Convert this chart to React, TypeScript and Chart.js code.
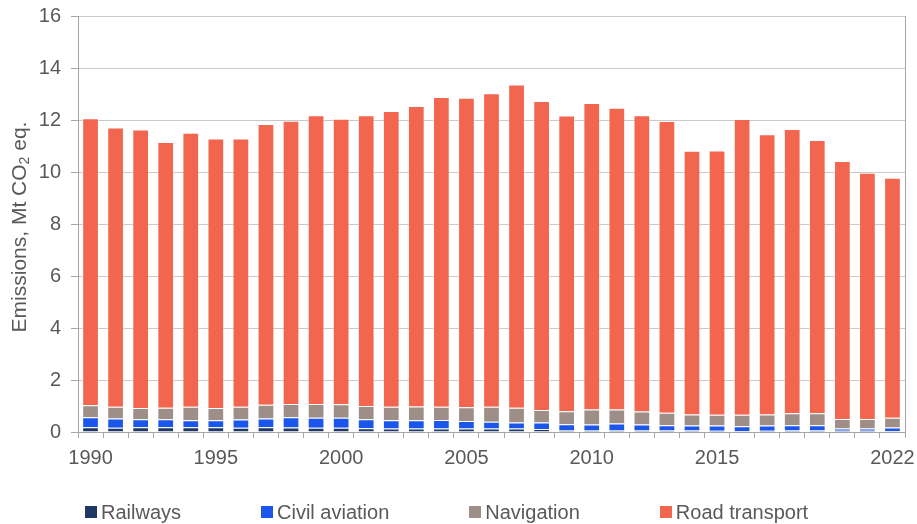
import React, { useEffect, useRef } from "react";
import { Chart, registerables } from "chart.js";

Chart.register(...registerables);

const years = [
  "1990","1991","1992","1993","1994","1995","1996","1997","1998","1999",
  "2000","2001","2002","2003","2004","2005","2006","2007","2008","2009",
  "2010","2011","2012","2013","2014","2015","2016","2017","2018","2019",
  "2020","2021","2022",
];

const tickYears = ["1990", "1995", "2000", "2005", "2010", "2015", "2022"];

const railways = [
  0.18, 0.16, 0.18, 0.18, 0.18, 0.18, 0.16, 0.18, 0.17, 0.16,
  0.16, 0.14, 0.13, 0.13, 0.13, 0.13, 0.13, 0.13, 0.12, 0.08,
  0.08, 0.07, 0.07, 0.07, 0.06, 0.05, 0.04, 0.05, 0.06, 0.06,
  0.05, 0.05, 0.04,
];

const civilAviation = [
  0.39, 0.36, 0.31, 0.31, 0.27, 0.27, 0.32, 0.34, 0.40, 0.39,
  0.39, 0.35, 0.32, 0.32, 0.33, 0.29, 0.26, 0.24, 0.25, 0.22,
  0.21, 0.26, 0.22, 0.19, 0.19, 0.20, 0.18, 0.20, 0.20, 0.20,
  0.08, 0.08, 0.13,
];

const navigation = [
  0.46, 0.45, 0.43, 0.44, 0.52, 0.47, 0.49, 0.53, 0.51, 0.53,
  0.52, 0.51, 0.52, 0.53, 0.51, 0.53, 0.58, 0.56, 0.48, 0.50,
  0.58, 0.54, 0.50, 0.48, 0.42, 0.41, 0.44, 0.42, 0.46, 0.46,
  0.37, 0.37, 0.38,
];

const roadTransport = [
  11.04, 10.74, 10.71, 10.22, 10.54, 10.37, 10.32, 10.80, 10.89, 11.10,
  10.98, 11.18, 11.38, 11.56, 11.91, 11.91, 12.06, 12.44, 11.88, 11.37,
  11.78, 11.60, 11.39, 11.22, 10.15, 10.17, 11.38, 10.78, 10.93, 10.51,
  9.92, 9.47, 9.23,
];

const seriesNames = ["Railways", "Civil aviation", "Navigation", "Road transport"];
const seriesColors = ["#1f3864", "#1a56eb", "#9d8f87", "#f2654e"];

const yTitleParts = ["Emissions, Mt CO", "2", " eq."];

const yTicks = { min: 0, max: 16, step: 2 };

const FONT = "'Liberation Sans', Arial, sans-serif";
const TEXT = "#595959";
const AXIS = "#a6a6a6";
const GRID = "#c9c9c9";

const yTitlePlugin = {
  id: "yTitleSub",
  afterDraw(chart: any) {
    const { ctx, chartArea } = chart;
    const main = `21px ${FONT}`;
    const sub = `14px ${FONT}`;
    ctx.save();
    ctx.font = main;
    const w0 = ctx.measureText(yTitleParts[0]).width;
    const w2 = ctx.measureText(yTitleParts[2]).width;
    ctx.font = sub;
    const w1 = ctx.measureText(yTitleParts[1]).width;
    const total = w0 + w1 + w2;
    const cy = (chartArea.top + chartArea.bottom) / 2 + 3;
    ctx.translate(20, cy);
    ctx.rotate(-Math.PI / 2);
    ctx.fillStyle = TEXT;
    ctx.textAlign = "left";
    ctx.textBaseline = "middle";
    let x = -total / 2;
    ctx.font = main;
    ctx.fillText(yTitleParts[0], x, 0);
    x += w0;
    ctx.font = sub;
    ctx.fillText(yTitleParts[1], x, 5);
    x += w1;
    ctx.font = main;
    ctx.fillText(yTitleParts[2], x, 0);
    ctx.restore();
  },
};

export default function App() {
  const ref = useRef<HTMLCanvasElement | null>(null);

  useEffect(() => {
    document.body.style.margin = "0";
    const canvas = ref.current;
    if (!canvas) return;
    const values = [railways, civilAviation, navigation, roadTransport];
    const chart = new Chart(canvas, {
      type: "bar",
      data: {
        labels: years,
        datasets: seriesNames.map((label, i) => ({
          label,
          data: values[i],
          backgroundColor: seriesColors[i],
          borderColor: "rgba(255,255,255,0.3)",
          borderWidth: 1,
          borderSkipped: "bottom" as const,
          barPercentage: 0.667,
          categoryPercentage: 1,
        })),
      },
      plugins: [yTitlePlugin],
      options: {
        responsive: false,
        animation: false,
        devicePixelRatio: 1,
        layout: { padding: { top: 16, bottom: 46, left: 0, right: 0 } },
        plugins: {
          tooltip: { enabled: false },
          legend: { display: false },
        },
        scales: {
          x: {
            stacked: true,
            afterFit: (s: any) => {
              s.paddingLeft = 0;
              s.paddingRight = 0;
              s.height = 46;
            },
            grid: {
              display: true,
              offset: true,
              drawOnChartArea: false,
              drawTicks: true,
              tickLength: 6,
              color: AXIS,
            },
            border: { display: true, color: AXIS, width: 1 },
            ticks: {
              autoSkip: false,
              maxRotation: 0,
              minRotation: 0,
              padding: 8,
              color: TEXT,
              font: { family: FONT, size: 20 },
              callback: (_v: any, i: number) =>
                tickYears.includes(years[i]) ? years[i] : "",
            },
          },
          y: {
            stacked: true,
            min: yTicks.min,
            max: yTicks.max,
            afterFit: (s: any) => {
              s.width = 78;
              s.paddingTop = 0;
              s.paddingBottom = 0;
            },
            grid: { color: GRID, tickLength: 7, tickColor: AXIS },
            border: { display: true, color: AXIS, width: 1 },
            ticks: {
              stepSize: yTicks.step,
              padding: 10,
              color: TEXT,
              font: { family: FONT, size: 20 },
            },
          },
          y2: {
            position: "right",
            min: yTicks.min,
            max: yTicks.max,
            afterFit: (s: any) => {
              s.width = 12;
              s.paddingTop = 0;
              s.paddingBottom = 0;
            },
            grid: { drawOnChartArea: false, drawTicks: false },
            border: { display: true, color: AXIS, width: 1 },
            ticks: { display: false },
          },
        },
      },
    });
    return () => chart.destroy();
  }, []);

  return (
    <div style={{ width: 917, height: 524, position: "relative" }}>
      <canvas ref={ref} width={917} height={524} />
      <div
        style={{
          position: "absolute",
          left: 85,
          top: 502,
          height: 20,
          display: "flex",
          alignItems: "center",
          fontFamily: FONT,
          fontSize: 20,
          lineHeight: "20px",
          color: TEXT,
          whiteSpace: "nowrap",
        }}
      >
        {seriesNames.map((name, i) => (
          <div
            key={name}
            style={{ display: "flex", alignItems: "center", marginRight: 80 }}
          >
            <span
              style={{
                display: "inline-block",
                width: 12,
                height: 12,
                background: seriesColors[i],
                marginRight: 4,
              }}
            />
            <span>{name}</span>
          </div>
        ))}
      </div>
    </div>
  );
}
